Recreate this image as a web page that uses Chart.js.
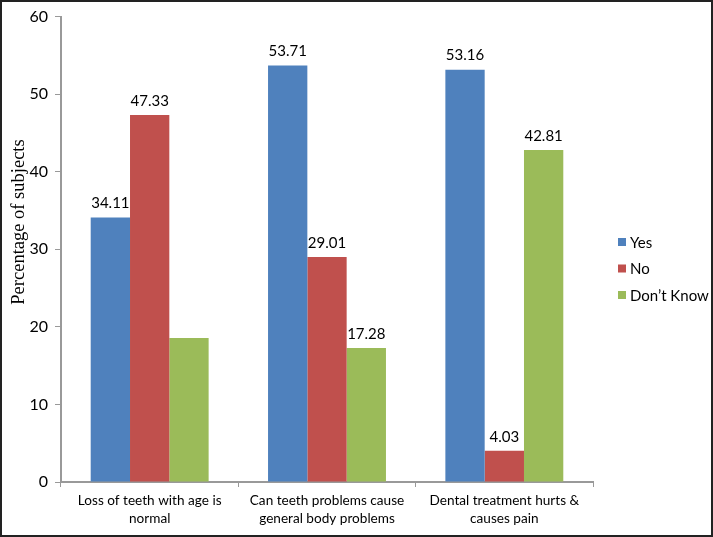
<!DOCTYPE html>
<html>
<head>
<meta charset="utf-8">
<script src="https://cdn.jsdelivr.net/npm/chart.js@4/dist/chart.umd.min.js"></script>
<style>
  html, body { margin: 0; padding: 0; background: #fff; }
  #wrap { width: 713px; height: 537px; position: relative; }
</style>
</head>
<body>
<div id="wrap"><canvas id="chart" width="713" height="537"></canvas></div>
<script>
const categories = [
  ['Loss of teeth with age is', 'normal'],
  ['Can teeth problems cause', 'general body problems'],
  ['Dental treatment hurts &', 'causes pain']
];
const seriesNames = ['Yes', 'No', 'Don\u2019t Know'];
const yesValues = [34.11, 53.71, 53.16];
const noValues = [47.33, 29.01, 4.03];
const dontKnowValues = [18.56, 17.28, 42.81];
const yTicks = [0, 10, 20, 30, 40, 50, 60];
const yTitle = 'Percentage of subjects';
// the reference leaves this one bar without a value label
const unlabeled = [{ series: 2, index: 0 }];

const colors = ['#4F81BD', '#C0504D', '#9BBB59'];
const font = "Lato, 'Open Sans', sans-serif";

const ctx = document.getElementById('chart').getContext('2d');

new Chart(ctx, {
  type: 'bar',
  data: {
    labels: categories,
    datasets: [yesValues, noValues, dontKnowValues].map((d, i) => ({
      label: seriesNames[i],
      data: d,
      backgroundColor: colors[i],
      borderWidth: 0,
      barPercentage: 1,
      categoryPercentage: 0.665
    }))
  },
  options: {
    responsive: false,
    animation: false,
    layout: { padding: { top: 16, right: 120, left: 0, bottom: 0 } },
    plugins: {
      legend: { display: false },
      tooltip: { enabled: false }
    },
    scales: {
      x: {
        grid: { drawOnChartArea: false, color: '#999', tickLength: 5 },
        border: { color: '#999', width: 2 },
        ticks: { color: '#000', font: { family: font, size: 13.6, lineHeight: 1.36 }, padding: 4, maxRotation: 0 },
        afterFit: s => { s.height = 55; }
      },
      y: {
        min: 0,
        max: 60,
        afterBuildTicks: s => { s.ticks = yTicks.map(v => ({ value: v })); },
        grid: { drawOnChartArea: false, color: '#999', tickLength: 6 },
        border: { color: '#999', width: 2 },
        ticks: { color: '#000', font: { family: font, size: 16 }, padding: 7 },
        afterFit: s => { s.width = 61; }
      }
    }
  },
  plugins: [{
    id: 'labelsLegendFrame',
    afterDraw(chart) {
      const c = chart.ctx;
      c.save();
      // value labels above bars
      c.font = `15px ${font}`;
      c.fillStyle = '#000';
      c.textAlign = 'center';
      c.textBaseline = 'middle';
      chart.data.datasets.forEach((ds, si) => {
        chart.getDatasetMeta(si).data.forEach((bar, i) => {
          if (unlabeled.some(u => u.series === si && u.index === i)) return;
          c.fillText(ds.data[i].toFixed(2), bar.x, bar.y - 14);
        });
      });
      // y axis title, sits above the plot centre in the reference
      c.save();
      c.translate(19, 222);
      c.rotate(-Math.PI / 2);
      c.font = "18.5px 'Liberation Serif', 'DejaVu Serif', serif";
      c.fillText(yTitle, 0, 0);
      c.restore();
      // legend
      c.textAlign = 'left';
      c.font = `15px ${font}`;
      chart.data.datasets.forEach((ds, si) => {
        const y = 242 + si * 26.5;
        c.fillStyle = ds.backgroundColor;
        c.fillRect(618, y - 4, 8, 8);
        c.fillStyle = '#000';
        c.fillText(ds.label, 630, y + 1);
      });
      // outer frame
      c.strokeStyle = '#222';
      c.lineWidth = 2;
      c.strokeRect(1, 1, chart.width - 2, chart.height - 2);
      c.restore();
    }
  }]
});
</script>
</body>
</html>
